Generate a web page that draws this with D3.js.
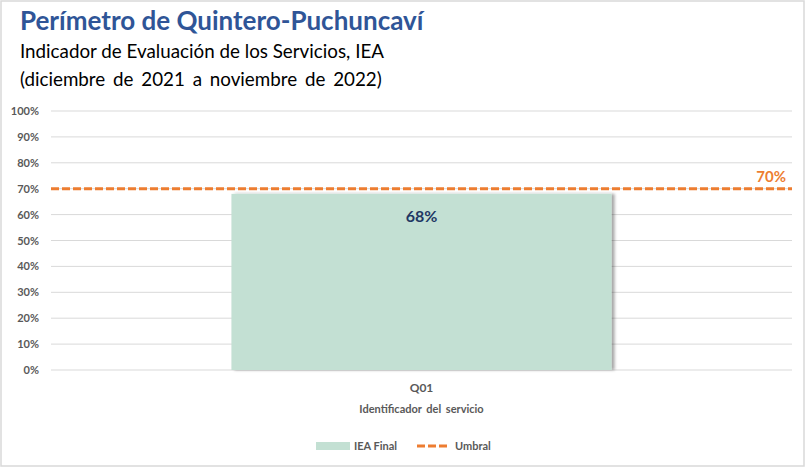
<!DOCTYPE html>
<html>
<head>
<meta charset="utf-8">
<script src="https://cdn.jsdelivr.net/npm/d3@7"></script>
<style>
  body { margin: 0; background: #fff; }
  svg { display: block; font-family: Lato, "Open Sans", sans-serif; }
</style>
</head>
<body>
<svg id="chart"></svg>
<script>
var width = 805;
var height = 467;

// data
var categories = ["Q01"];
var ieaFinal = [0.68];
var umbral = 0.70;
var yTicks = [0, 0.1, 0.2, 0.3, 0.4, 0.5, 0.6, 0.7, 0.8, 0.9, 1.0];

var margin = { top: 111, right: 13, bottom: 97, left: 51 };
var innerW = width - margin.left - margin.right;
var innerH = height - margin.top - margin.bottom;

var svg = d3.select("#chart")
    .attr("width", width)
    .attr("height", height);

// shadow for the bar
var defs = svg.append("defs");
var filter = defs.append("filter")
    .attr("id", "shadow")
    .attr("x", "-5%").attr("y", "-5%")
    .attr("width", "115%").attr("height", "115%");
filter.append("feDropShadow")
    .attr("dx", 3).attr("dy", 0)
    .attr("stdDeviation", 1.5)
    .attr("flood-color", "#000")
    .attr("flood-opacity", 0.35);

// outer frame
svg.append("rect")
    .attr("x", 1).attr("y", 1)
    .attr("width", width - 2).attr("height", height - 2)
    .attr("fill", "none")
    .attr("stroke", "#d9d9d9")
    .attr("stroke-width", 1.5);

// titles
svg.append("text")
    .attr("x", 20).attr("y", 30)
    .attr("fill", "#2F5597")
    .attr("font-size", 26)
    .attr("font-weight", "bold")
    .text("Perímetro de Quintero-Puchuncaví");
svg.append("text")
    .attr("x", 20).attr("y", 58)
    .attr("fill", "#000")
    .attr("font-size", 18.8)
    .text("Indicador de Evaluación de los Servicios, IEA");
svg.append("text")
    .attr("x", 20).attr("y", 86)
    .attr("fill", "#000")
    .attr("font-size", 18.8)
    .attr("word-spacing", 3)
    .text("(diciembre de 2021 a noviembre de 2022)");

var g = svg.append("g")
    .attr("transform", "translate(" + margin.left + "," + margin.top + ")");

// scales
var x = d3.scaleBand()
    .domain(categories)
    .range([0, innerW])
    .paddingInner(0.487)
    .paddingOuter(0.2435);

var y = d3.scaleLinear()
    .domain([0, 1])
    .range([innerH, 0]);

// gridlines
g.append("g")
    .selectAll("line")
    .data(yTicks)
    .enter().append("line")
    .attr("x1", 0).attr("x2", innerW)
    .attr("y1", function (d) { return y(d); })
    .attr("y2", function (d) { return y(d); })
    .attr("stroke", "#d9d9d9")
    .attr("stroke-width", 1);

// y axis
var yAxis = g.append("g")
    .call(d3.axisLeft(y).tickValues(yTicks).tickFormat(d3.format(".0%")).tickSize(0).tickPadding(12));
yAxis.select(".domain").remove();
yAxis.selectAll("text")
    .attr("fill", "#595959")
    .attr("font-size", 11)
    .attr("font-weight", "bold")
    .attr("font-family", "Lato, 'Open Sans', sans-serif");

// bars
g.selectAll(".bar")
    .data(ieaFinal)
    .enter().append("rect")
    .attr("class", "bar")
    .attr("x", function (d, i) { return x(categories[i]); })
    .attr("y", function (d) { return y(d); })
    .attr("width", x.bandwidth())
    .attr("height", function (d) { return innerH - y(d); })
    .attr("fill", "#C3E0D3")
    .attr("filter", "url(#shadow)");

// bar labels
g.selectAll(".barLabel")
    .data(ieaFinal)
    .enter().append("text")
    .attr("class", "barLabel")
    .attr("x", function (d, i) { return x(categories[i]) + x.bandwidth() / 2; })
    .attr("y", function (d) { return y(d) + 28; })
    .attr("text-anchor", "middle")
    .attr("fill", "#1F3864")
    .attr("font-size", 16)
    .attr("font-weight", "bold")
    .text(function (d) { return d3.format(".0%")(d); });

// threshold line
g.append("line")
    .attr("x1", 0).attr("x2", innerW)
    .attr("y1", y(umbral)).attr("y2", y(umbral))
    .attr("stroke", "#ED7D31")
    .attr("stroke-width", 3)
    .attr("stroke-dasharray", "8,3");
g.append("text")
    .attr("x", innerW - 6)
    .attr("y", y(umbral) - 7)
    .attr("text-anchor", "end")
    .attr("fill", "#ED7D31")
    .attr("font-size", 15)
    .attr("font-weight", "bold")
    .text(d3.format(".0%")(umbral));

// x axis
var xAxis = g.append("g")
    .attr("transform", "translate(0," + innerH + ")")
    .call(d3.axisBottom(x).tickSize(0).tickPadding(13));
xAxis.select(".domain").remove();
xAxis.selectAll("text")
    .attr("fill", "#595959")
    .attr("font-size", 12)
    .attr("font-weight", "bold")
    .attr("font-family", "Lato, 'Open Sans', sans-serif");

g.append("text")
    .attr("x", innerW / 2)
    .attr("y", innerH + 43)
    .attr("text-anchor", "middle")
    .attr("fill", "#595959")
    .attr("font-size", 11)
    .attr("font-weight", "bold")
    .attr("word-spacing", 2)
    .text("Identificador  del servicio");

// legend
var legend = svg.append("g").attr("transform", "translate(316,446)");
legend.append("rect")
    .attr("x", 0).attr("y", -4)
    .attr("width", 34).attr("height", 8)
    .attr("fill", "#C3E0D3");
legend.append("text")
    .attr("x", 38).attr("y", 4)
    .attr("fill", "#595959")
    .attr("font-size", 11)
    .attr("font-weight", "bold")
    .text("IEA Final");
legend.append("line")
    .attr("x1", 101).attr("x2", 134)
    .attr("y1", 0).attr("y2", 0)
    .attr("stroke", "#ED7D31")
    .attr("stroke-width", 3)
    .attr("stroke-dasharray", "8,3");
legend.append("text")
    .attr("x", 139).attr("y", 4)
    .attr("fill", "#595959")
    .attr("font-size", 11)
    .attr("font-weight", "bold")
    .text("Umbral");
</script>
</body>
</html>
